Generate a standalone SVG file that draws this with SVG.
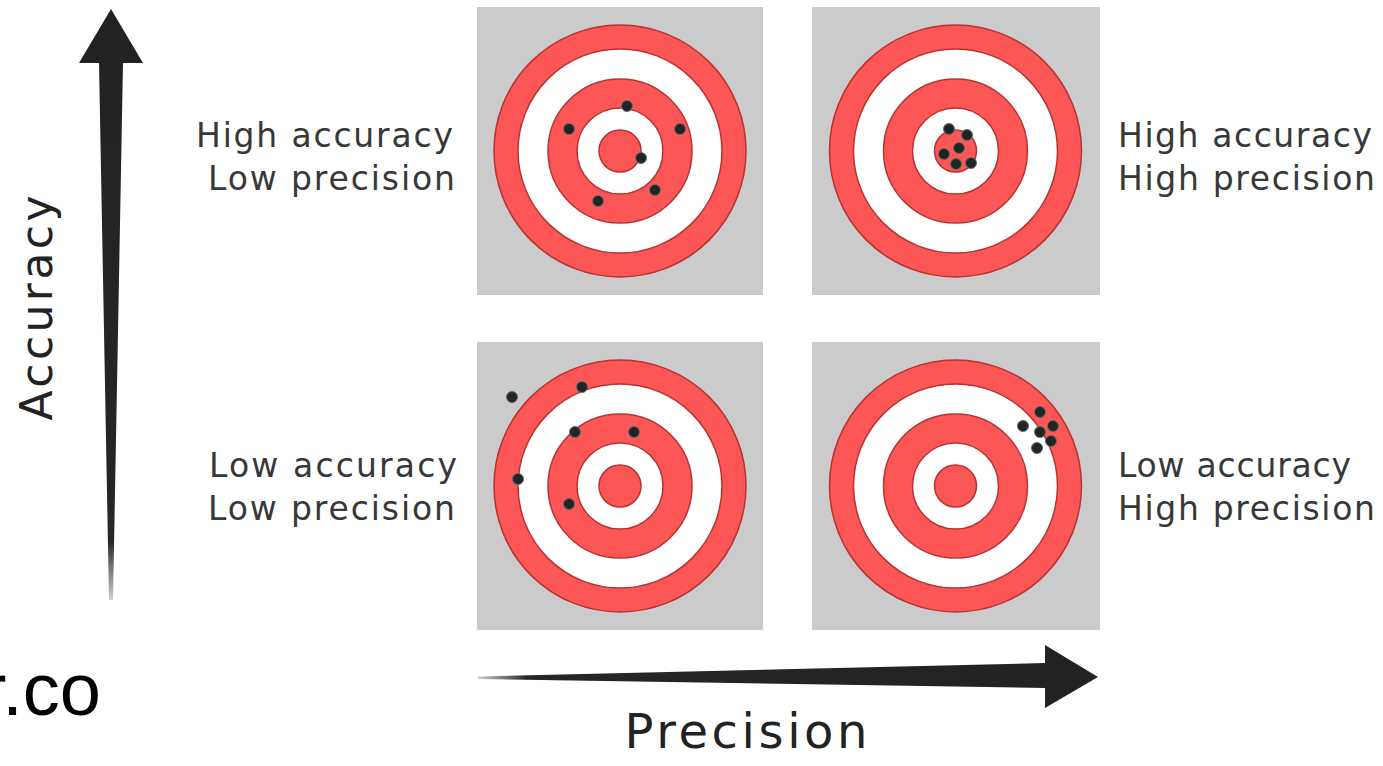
<svg xmlns="http://www.w3.org/2000/svg" width="1383" height="766" viewBox="0 0 1383 766">
<style>
.bg{fill:#cbcbcb}
.red{fill:#fd5656;stroke:#b83232;stroke-width:1.5}
.wht{fill:#ffffff;stroke:#b83232;stroke-width:1.5}
.dot{fill:#1f2424;stroke:#6a6a6a;stroke-width:1}
.lbl{font-family:"DejaVu Sans","Open Sans",sans-serif;font-size:33px;fill:#383838}
.axis{font-family:"DejaVu Sans","Open Sans",sans-serif;fill:#222222}
</style>
<defs>
<g id="target">
<circle class="red" r="126"/>
<circle class="wht" r="102"/>
<circle class="red" r="72"/>
<circle class="wht" r="43"/>
<circle class="red" r="21"/>
</g>
<linearGradient id="hgrad" x1="478" y1="0" x2="1098" y2="0" gradientUnits="userSpaceOnUse">
<stop offset="0" stop-color="#d0d0d0"/>
<stop offset="0.08" stop-color="#262626"/>
<stop offset="1" stop-color="#222222"/>
</linearGradient>
<linearGradient id="vgrad" x1="0" y1="9" x2="0" y2="600" gradientUnits="userSpaceOnUse">
<stop offset="0" stop-color="#222222"/>
<stop offset="0.9" stop-color="#262626"/>
<stop offset="1" stop-color="#cfcfcf"/>
</linearGradient>
</defs>
<rect width="1383" height="766" fill="#ffffff"/>

<g id="connectors">
<polygon id="accuracy-arrow" fill="url(#vgrad)" points="111,9 143,63 123,63 113,600 109,600 99,63 79,63"/>
<polygon id="precision-arrow" fill="url(#hgrad)" points="478,676.5 1045,663 1045,645 1098,677 1045,708 1045,688 478,679"/>
</g>

<g id="axis-labels">
<text class="axis" font-size="44" text-anchor="middle" textLength="225" lengthAdjust="spacing" transform="translate(52,308) rotate(-90)">Accuracy</text>
<text class="axis" font-size="48" x="746" y="748" text-anchor="middle" textLength="243" lengthAdjust="spacing">Precision</text>
<text x="101" y="715" text-anchor="end" font-family="'Liberation Sans',Arial,sans-serif" font-size="74" fill="#000000">r.co</text>
</g>

<g id="high-acc-low-prec">
<rect class="bg" x="477" y="7" width="286" height="288"/>
<use href="#target" x="620" y="151"/>
<circle class="dot" cx="627" cy="106" r="5.5"/>
<circle class="dot" cx="569" cy="129" r="5.5"/>
<circle class="dot" cx="680" cy="129" r="5.5"/>
<circle class="dot" cx="641" cy="158" r="5.5"/>
<circle class="dot" cx="655" cy="190" r="5.5"/>
<circle class="dot" cx="598" cy="201" r="5.5"/>
<text class="lbl" x="453" y="147" text-anchor="end" textLength="257" lengthAdjust="spacing">High accuracy</text>
<text class="lbl" x="455" y="190" text-anchor="end" textLength="247" lengthAdjust="spacing">Low precision</text>
</g>

<g id="high-acc-high-prec">
<rect class="bg" x="812" y="7" width="288" height="288"/>
<use href="#target" x="955.5" y="151"/>
<circle class="dot" cx="949" cy="129" r="5.5"/>
<circle class="dot" cx="967" cy="135" r="5.5"/>
<circle class="dot" cx="959" cy="148" r="5.5"/>
<circle class="dot" cx="944" cy="154" r="5.5"/>
<circle class="dot" cx="956" cy="164" r="5.5"/>
<circle class="dot" cx="971" cy="163" r="5.5"/>
<text class="lbl" x="1118" y="147" textLength="254" lengthAdjust="spacing">High accuracy</text>
<text class="lbl" x="1118" y="190" textLength="257" lengthAdjust="spacing">High precision</text>
</g>

<g id="low-acc-low-prec">
<rect class="bg" x="477" y="342" width="286" height="288"/>
<use href="#target" x="620" y="486"/>
<circle class="dot" cx="512" cy="397" r="5.5"/>
<circle class="dot" cx="582" cy="387" r="5.5"/>
<circle class="dot" cx="575" cy="432" r="5.5"/>
<circle class="dot" cx="634" cy="432" r="5.5"/>
<circle class="dot" cx="518" cy="479" r="5.5"/>
<circle class="dot" cx="569" cy="504" r="5.5"/>
<text class="lbl" x="457" y="477" text-anchor="end" textLength="248" lengthAdjust="spacing">Low accuracy</text>
<text class="lbl" x="455" y="520" text-anchor="end" textLength="247" lengthAdjust="spacing">Low precision</text>
</g>

<g id="low-acc-high-prec">
<rect class="bg" x="812" y="342" width="288" height="288"/>
<use href="#target" x="955.5" y="486"/>
<circle class="dot" cx="1040" cy="412" r="5.5"/>
<circle class="dot" cx="1023" cy="426" r="5.5"/>
<circle class="dot" cx="1053" cy="426" r="5.5"/>
<circle class="dot" cx="1040" cy="432" r="5.5"/>
<circle class="dot" cx="1051" cy="441" r="5.5"/>
<circle class="dot" cx="1037" cy="448" r="5.5"/>
<text class="lbl" x="1118" y="477" textLength="233" lengthAdjust="spacing">Low accuracy</text>
<text class="lbl" x="1118" y="520" textLength="257" lengthAdjust="spacing">High precision</text>
</g>
</svg>
